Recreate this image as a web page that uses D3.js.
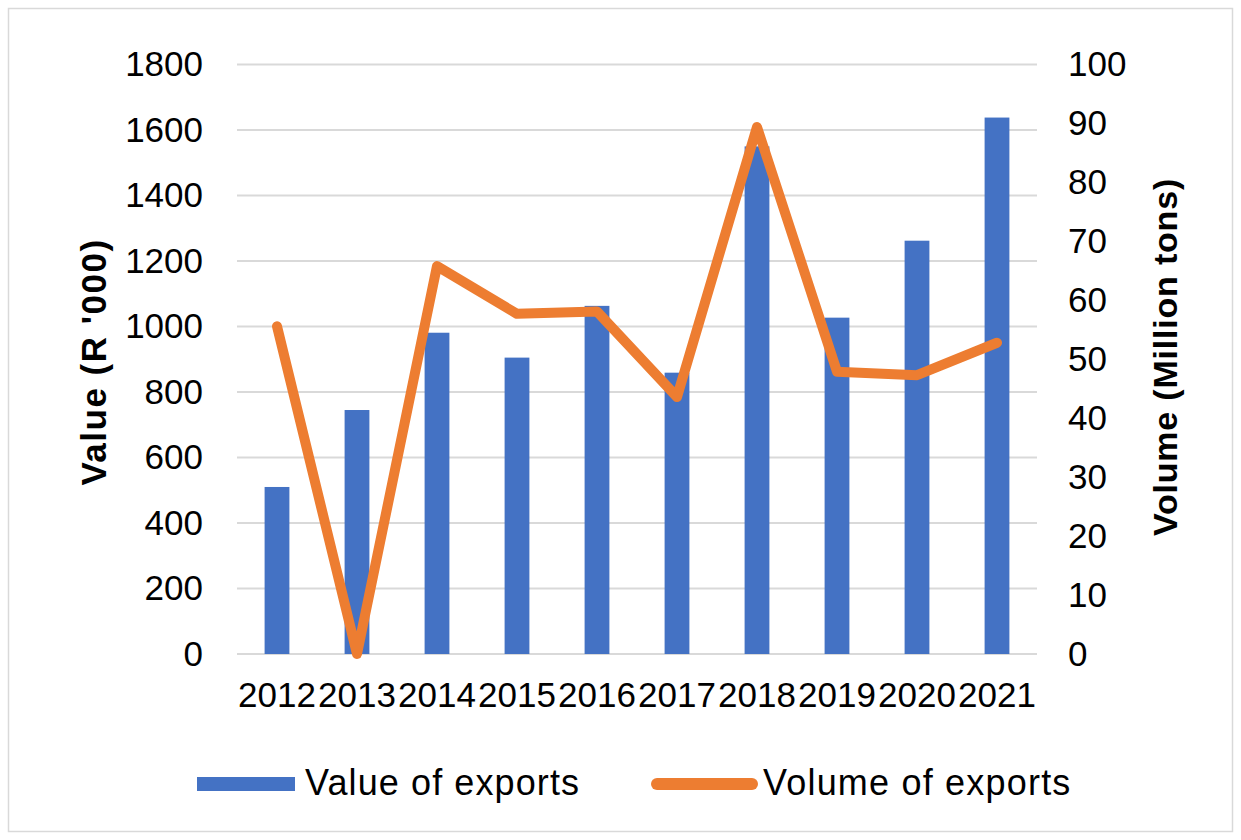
<!DOCTYPE html>
<html>
<head>
<meta charset="utf-8">
<script src="https://cdn.jsdelivr.net/npm/d3@7"></script>
<style>
  html, body { margin: 0; padding: 0; background: #fff; }
  svg { display: block; }
  text { font-family: "Liberation Sans", Arial, sans-serif; fill: #000; }
</style>
</head>
<body>
<svg id="chart" width="1241" height="840"></svg>
<script>
const years = ["2012","2013","2014","2015","2016","2017","2018","2019","2020","2021"];
const exportValues = [510, 745, 981, 905, 1063, 859, 1550, 1027, 1262, 1638];
const exportVolumes = [55.6, 0, 65.8, 57.7, 58.1, 43.6, 89.4, 47.9, 47.3, 52.8];
const leftTicks = [0,200,400,600,800,1000,1200,1400,1600,1800];
const rightTicks = [0,10,20,30,40,50,60,70,80,90,100];
const seriesNames = ["Value of exports", "Volume of exports"];
const axisTitles = ["Value (R '000)", "Volume (Million tons)"];

const svg = d3.select("#chart");
const W = 1241, H = 840;
const plot = {left: 237, right: 1037, top: 64.5, bottom: 654};

// outer border
svg.append("rect").attr("x", 8.5).attr("y", 8.5).attr("width", W - 17).attr("height", H - 17)
  .attr("fill", "#fff").attr("stroke", "#d9d9d9").attr("stroke-width", 1.5);

const x = d3.scaleBand().domain(years).range([plot.left, plot.right])
  .paddingInner(0.69).paddingOuter(0.345);
const yL = d3.scaleLinear().domain([0, 1800]).range([plot.bottom, plot.top]);
const yR = d3.scaleLinear().domain([0, 100]).range([plot.bottom, plot.top]);

// gridlines
svg.append("g").selectAll("line").data(leftTicks).join("line")
  .attr("x1", plot.left).attr("x2", plot.right)
  .attr("y1", d => yL(d)).attr("y2", d => yL(d))
  .attr("stroke", "#d9d9d9").attr("stroke-width", 2);

// bars
svg.append("g").selectAll("rect").data(years).join("rect")
  .attr("x", d => x(d)).attr("width", x.bandwidth())
  .attr("y", (d, i) => yL(exportValues[i]))
  .attr("height", (d, i) => yL(0) - yL(exportValues[i]))
  .attr("fill", "#4472c4");

// line
const line = d3.line()
  .x((d, i) => x(years[i]) + x.bandwidth() / 2)
  .y(d => yR(d));
svg.append("path").datum(exportVolumes).attr("d", line)
  .attr("fill", "none").attr("stroke", "#ed7d31").attr("stroke-width", 10)
  .attr("stroke-linejoin", "round").attr("stroke-linecap", "round");

// axes
const fs = "35px";
const gL = svg.append("g").attr("transform", `translate(${plot.left},0)`)
  .call(d3.axisLeft(yL).tickValues(leftTicks).tickFormat(d3.format("d")).tickSize(0).tickPadding(34));
gL.select(".domain").remove();
gL.selectAll("text").style("font-size", fs).style("font-family", "Liberation Sans, Arial, sans-serif").attr("fill", "#000");

const gR = svg.append("g").attr("transform", `translate(${plot.right},0)`)
  .call(d3.axisRight(yR).tickValues(rightTicks).tickFormat(d3.format("d")).tickSize(0).tickPadding(31));
gR.select(".domain").remove();
gR.selectAll("text").style("font-size", fs).style("font-family", "Liberation Sans, Arial, sans-serif").attr("fill", "#000");

const gB = svg.append("g").attr("transform", `translate(0,${plot.bottom})`)
  .call(d3.axisBottom(x).tickSize(0).tickPadding(28));
gB.select(".domain").remove();
gB.selectAll("text").style("font-size", fs).style("font-family", "Liberation Sans, Arial, sans-serif").attr("fill", "#000");

// axis titles
svg.append("text").attr("transform", `translate(106,362) rotate(-90)`)
  .attr("text-anchor", "middle").style("font-size", "35px").style("font-weight", "bold")
  .style("letter-spacing", "1.5px")
  .text(axisTitles[0]);
svg.append("text").attr("transform", `translate(1177,357) rotate(-90)`)
  .attr("text-anchor", "middle").style("font-size", "34px").style("font-weight", "bold")
  .style("letter-spacing", "0.8px")
  .text(axisTitles[1]);

// legend
const lg = svg.append("g");
lg.append("rect").attr("x", 197).attr("y", 777).attr("width", 98).attr("height", 14).attr("fill", "#4472c4");
lg.append("text").attr("x", 305).attr("y", 795).style("font-size", "36px").style("letter-spacing", "1.1px").text(seriesNames[0]);
lg.append("line").attr("x1", 657).attr("x2", 752).attr("y1", 784).attr("y2", 784)
  .attr("stroke", "#ed7d31").attr("stroke-width", 12).attr("stroke-linecap", "round");
lg.append("text").attr("x", 763).attr("y", 795).style("font-size", "36px").style("letter-spacing", "1.2px").text(seriesNames[1]);
</script>
</body>
</html>
